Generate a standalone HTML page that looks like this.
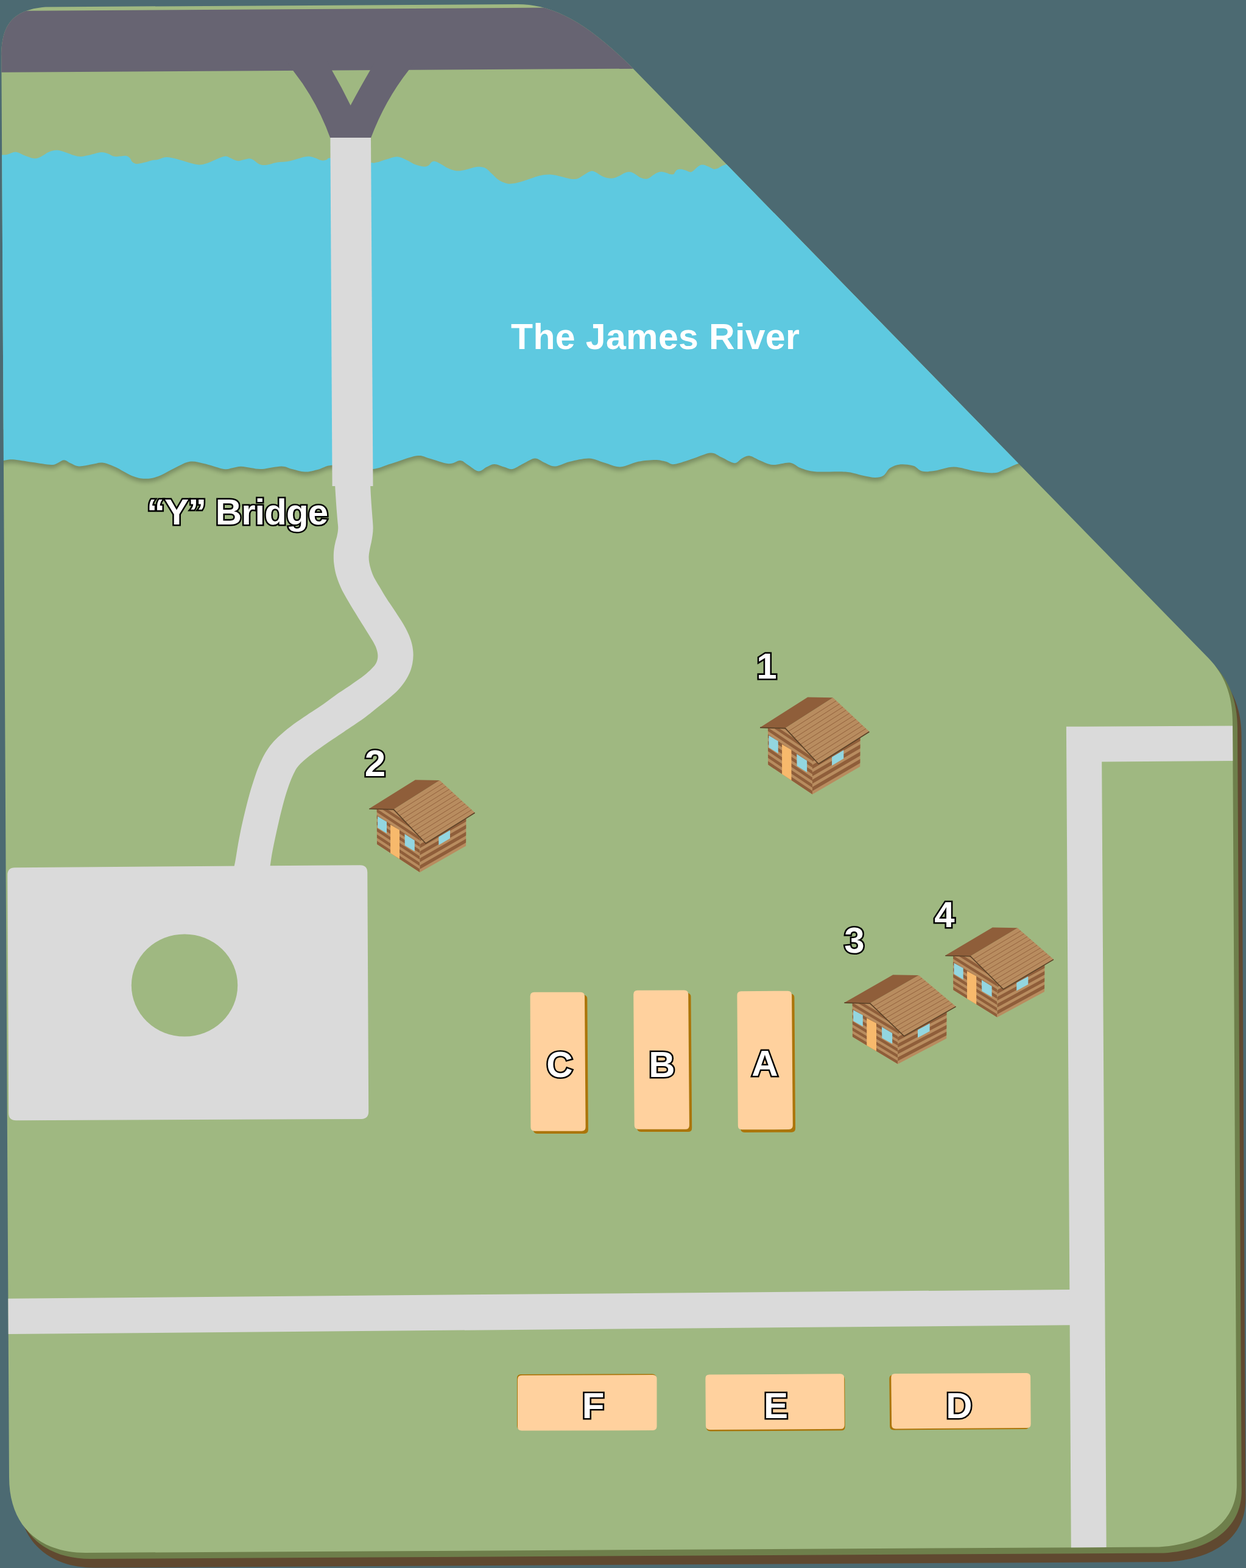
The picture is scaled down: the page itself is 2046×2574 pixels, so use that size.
<!DOCTYPE html>
<html><head><meta charset="utf-8"><title>Map</title>
<style>
html,body{margin:0;padding:0;background:#4c6a72;}
svg{display:block;}
text{font-family:"Liberation Sans",sans-serif;font-weight:bold;}
</style></head><body>

<svg width="2046" height="2574" viewBox="0 0 2046 2574">
<defs>
<clipPath id="pg"><path d="M2.3,93 C2.3,45 17,16 74.7,11.4 L850,7 C905,7 960,33 1039,112 L1985,1081 C2010,1107 2024,1140 2024,1185 L2030.8,2437 C2031,2485 1998,2533 1903,2539.5 L140,2549 C70,2549 15,2510 15,2425 Z"/></clipPath>
<filter id="sb" filterUnits="userSpaceOnUse" x="-10" y="700" width="1780" height="110"><feGaussianBlur stdDeviation="3.5"/></filter>
<clipPath id="lowhalf"><rect x="0" y="600" width="2046" height="300"/></clipPath>
<clipPath id="cwl"><polygon points="12.5,48 40.2,48.5 83.1,95 83.1,151.9 12.8,105.7" fill="#000"/></clipPath><clipPath id="cwr"><polygon points="83.1,95 92.9,104.1 159.2,63.3 158.9,108.5 83.1,151.9" fill="#000"/></clipPath><clipPath id="crf"><polygon points="40.2,48.5 115.9,0.9 173.5,53.9 92.9,104.1" fill="#000"/></clipPath>
</defs>
<rect width="2046" height="2574" fill="#4c6a72"/>
<path d="M2.3,93 C2.3,45 17,16 74.7,11.4 L850,7 C905,7 960,33 1039,112 L1985,1081 C2010,1107 2024,1140 2024,1185 L2030.8,2437 C2031,2485 1998,2533 1903,2539.5 L140,2549 C70,2549 15,2510 15,2425 Z" fill="#604930" transform="translate(14.6,24.5)"/>
<path d="M2.3,93 C2.3,45 17,16 74.7,11.4 L850,7 C905,7 960,33 1039,112 L1985,1081 C2010,1107 2024,1140 2024,1185 L2030.8,2437 C2031,2485 1998,2533 1903,2539.5 L140,2549 C70,2549 15,2510 15,2425 Z" fill="#6e7f4b" transform="translate(8,10)"/>
<path d="M2.3,93 C2.3,45 17,16 74.7,11.4 L850,7 C905,7 960,33 1039,112 L1985,1081 C2010,1107 2024,1140 2024,1185 L2030.8,2437 C2031,2485 1998,2533 1903,2539.5 L140,2549 C70,2549 15,2510 15,2425 Z" fill="#9fb881"/>
<g clip-path="url(#pg)">
<polygon points="-5,18 900,12.6 1100,11.5 1100,112.4 -5,118.8" fill="#676472"/>
<path d="M-5,255 C-3.8,254.9 -0.5,254.7 2.3,254.5 C5.1,254.3 7.8,254.6 11.7,253.8 C15.6,253 21,249.4 25.7,249.6 C30.4,249.8 34.7,253.2 39.7,255 C44.8,256.8 51.3,259.8 56,260.1 C60.7,260.4 63.8,258.6 67.7,256.9 C71.6,255.2 75,251.6 79.3,249.9 C83.6,248.2 88.6,246.6 93.3,246.6 C98,246.6 102.6,248.5 107.3,249.9 C112,251.3 117,253.8 121.3,255 C125.6,256.2 128.7,257 133,256.9 C137.3,256.8 141.6,255.6 147,254.5 C152.4,253.4 160.6,250.5 165.7,250.1 C170.8,249.7 173.8,251.1 177.3,252.2 C180.8,253.3 183.2,255.9 186.7,256.6 C190.2,257.3 194.8,256.5 198.3,256.4 C201.8,256.3 205.2,255.3 207.7,255.9 C210.2,256.4 211.9,258.1 213.5,259.7 C215.1,261.3 215.2,263.9 217,265.5 C218.8,267.1 220.9,268.7 224,269 C227.1,269.3 231.4,268.1 235.7,267.1 C240,266.1 245.8,264.1 249.7,263.2 C253.6,262.3 255.1,262.9 259,262 C262.9,261.1 267.9,258.2 273,258 C278.1,257.8 283.2,259.3 289.4,260.8 C295.6,262.3 304.2,265.5 310.4,267.1 C316.6,268.7 321.6,270.3 326.7,270.4 C331.8,270.5 335.6,269.4 340.7,267.8 C345.8,266.2 352.1,262.7 357,260.8 C361.9,258.9 366.4,256.9 369.9,256.6 C373.4,256.3 374.7,257.9 378,259.2 C381.3,260.4 386,263.6 389.8,264.1 C393.6,264.6 397.7,262.6 401,262 C404.3,261.4 406.8,260.2 409.4,260.3 C412,260.4 413.8,261.2 416.4,262.7 C419,264.1 422,267.6 424.8,269 C427.6,270.4 430.2,271 433.2,271.1 C436.2,271.2 439.3,270.4 443,269.7 C446.7,268.9 450.2,267.5 455.6,266.6 C461,265.7 469.6,265.4 475.2,264.4 C480.8,263.4 485,261.8 489.2,260.6 C493.4,259.5 497.1,258.1 500.4,257.5 C503.7,256.9 506,256.7 508.8,257 C511.6,257.3 514.4,258.2 517.2,259.2 C520,260.1 523.3,262 525.6,262.7 C527.9,263.4 529.3,263.5 531.2,263.4 C533.1,263.3 534.9,262.6 536.8,262 C538.7,261.4 536,259.5 542.4,259.5 C548.8,259.5 563.9,260.8 575,262 C586.1,263.2 602,266.1 609.3,266.9 C616.6,267.7 614.4,267.5 618.7,266.6 C623,265.7 629.4,263.1 635,261.5 C640.6,259.9 647,257.1 652.5,257.3 C658,257.5 662.8,260.6 667.7,262.7 C672.6,264.8 677,268.3 681.7,270.1 C686.4,271.9 692,273.4 695.7,273.6 C699.4,273.8 701.8,272.7 703.9,271.5 C706,270.3 706.8,267.3 708.5,266.2 C710.2,265.1 711.9,264.5 714.4,265 C716.9,265.5 720.2,267.4 723.7,269.2 C727.2,271 731.1,274.1 735.4,276 C739.7,277.9 744.7,279.9 749.4,280.4 C754.1,280.9 758.7,279.9 763.4,279 C768.1,278.1 773.1,275.9 777.4,275 C781.7,274.1 785.5,273.6 789,273.9 C792.5,274.2 795.3,274.8 798.4,276.7 C801.5,278.6 804.2,282.1 807.7,285.3 C811.2,288.5 815.1,293.1 819.4,295.8 C823.7,298.5 828.7,300.6 833.4,301.4 C838.1,302.2 842.3,301.4 847.4,300.5 C852.5,299.6 857.5,297.8 863.7,295.8 C869.9,293.9 878.1,290.4 884.7,288.8 C891.3,287.2 897.2,286.3 903.4,286.5 C909.6,286.7 916.6,288.8 922,290 C927.4,291.2 931.7,292.9 936,293.5 C940.3,294.1 944.2,294.4 947.7,293.5 C951.2,292.6 953.9,290.1 957,288.3 C960.1,286.5 963.7,283.7 966.4,282.5 C969.1,281.3 971.1,280.7 973.4,280.9 C975.7,281.1 977.5,282.3 980,283.7 C982.5,285.1 985.6,287.6 988.4,289 C991.2,290.4 993.8,291.5 996.8,292.1 C999.8,292.7 1003.3,293 1006.6,292.5 C1009.9,292 1013.1,290.5 1016.4,289 C1019.7,287.5 1023.2,284.8 1026.2,283.7 C1029.2,282.6 1032,282.1 1034.6,282.3 C1037.2,282.5 1039,283.7 1041.6,285.1 C1044.2,286.5 1047.2,289.3 1050,290.7 C1052.8,292.1 1055.8,293.3 1058.4,293.6 C1061,293.9 1063.1,293.5 1065.4,292.5 C1067.7,291.5 1070.1,289.1 1072.4,287.6 C1074.7,286.1 1077.1,284.3 1079.4,283.4 C1081.7,282.5 1084.1,282 1086.4,282 C1088.7,282 1091.1,282.8 1093.4,283.4 C1095.7,284 1098.3,285.5 1100.4,285.9 C1102.5,286.3 1104.6,286.5 1106,285.9 C1107.4,285.2 1107.8,283.2 1108.8,282 C1109.8,280.8 1110.7,279.2 1112.3,278.5 C1113.9,277.8 1116.4,277.6 1118.6,277.8 C1120.8,278 1123.1,278.8 1125.6,279.6 C1128,280.4 1131.2,282.2 1133.3,282.4 C1135.4,282.6 1136.2,282 1138.2,280.6 C1140.2,279.2 1143.1,275.9 1145.2,274.3 C1147.3,272.7 1148.9,271.4 1150.8,270.8 C1152.7,270.2 1154.3,270.3 1156.4,270.8 C1158.5,271.3 1160.8,272.5 1163.4,273.6 C1166,274.7 1169.5,276.9 1171.8,277.4 C1174.1,277.9 1175.3,277.6 1177.4,276.8 C1179.5,276.1 1181.8,274.1 1184.4,272.9 C1187,271.7 1187.7,271.6 1192.8,269.8 C1197.9,268 1211.3,263.3 1215,262 L1700,752 C1695.2,753.5 1679.8,758.3 1671.5,761.3 C1663.2,764.3 1656.9,767.5 1650.5,770 C1644.1,772.5 1641.2,775.7 1633,776.3 C1624.8,776.9 1612.6,775.1 1601.5,773.5 C1590.4,771.9 1577.6,766.6 1566.5,766.5 C1555.4,766.4 1543.8,771.6 1535,772.8 C1526.2,774 1519.8,774.8 1514,773.5 C1508.2,772.2 1505.8,766.7 1500,764.8 C1494.2,762.9 1485.4,761.7 1479,762.3 C1472.6,762.9 1466.2,765.3 1461.5,768.3 C1456.8,771.3 1455.1,777.9 1451,780.5 C1446.9,783.1 1442.8,784 1437,784 C1431.2,784 1424.2,782.1 1416,780.5 C1407.8,778.9 1400.8,775.6 1388,774.6 C1375.2,773.6 1351.2,775.2 1339,774.2 C1326.8,773.2 1321.5,770.8 1314.5,768.3 C1307.5,765.8 1304.6,760.4 1297,759.5 C1289.4,758.6 1277.2,763.6 1269,763 C1260.8,762.4 1254.4,758.5 1248,756 C1241.6,753.5 1235.5,748.9 1230.5,748.3 C1225.5,747.7 1222.4,750.5 1218.3,752.5 C1214.2,754.5 1211.5,760.5 1206,760.2 C1200.5,759.9 1191.5,753.6 1185,750.8 C1178.5,748 1174.7,743.2 1167,743.5 C1159.3,743.8 1148.9,749.4 1139,752.5 C1129.1,755.6 1115.1,761.1 1107.5,762 C1099.9,762.9 1098.8,759 1093.5,757.8 C1088.2,756.6 1083.6,755 1076,755 C1068.4,755 1057.6,755.9 1048,757.8 C1038.4,759.7 1027.6,766.2 1018.3,766.5 C1009,766.8 1000.5,761.8 992,759.5 C983.5,757.2 976.8,752.8 967.5,752.5 C958.2,752.2 945.3,755.6 936,757.8 C926.7,760 918.5,765.2 911.5,765.5 C904.5,765.8 899.5,761.7 894,759.5 C888.5,757.3 884.1,752.2 878.3,752.5 C872.5,752.8 865.1,758.4 859,761.3 C852.9,764.2 846.8,769.1 841.5,770 C836.2,770.9 832.5,767.8 827.5,766.5 C822.5,765.2 816.5,762 811.8,762 C807.1,762 803.9,764.6 799.5,766.5 C795.1,768.4 790.8,774.1 785.5,773.5 C780.2,772.9 773,765.9 768,763 C763,760.1 761,756.3 755.8,756 C750.5,755.7 745,761.9 736.5,761.3 C728,760.7 713.8,754.7 705,752.5 C696.2,750.3 694.5,746.8 684,748.3 C673.5,749.8 653.9,757.7 642,761.3 C630.1,764.9 622.9,768.9 612.6,770 C602.3,771.1 591.3,769 580,768 C568.7,767 554.4,763.2 544.6,763.7 C534.9,764.2 528.9,769.2 521.5,771 C514.1,772.8 507.5,774.8 500.5,774.6 C493.5,774.4 485.9,771.5 479.5,770 C473.1,768.5 470.2,765.5 462,765.5 C453.8,765.5 438.7,769.5 430.5,770 C422.3,770.5 418.8,769 413,768.3 C407.2,767.6 400.8,765.8 395.5,765.8 C390.2,765.8 386.2,767.6 381.5,768.3 C376.8,769 375.1,771.2 367.5,770 C359.9,768.8 345.3,763.3 336,761.3 C326.7,759.3 319.7,756.6 311.5,757.8 C303.3,759 295.8,764.2 287,768.3 C278.2,772.4 267.2,779.4 259,782.3 C250.8,785.2 245,786 238,785.8 C231,785.6 225.2,784.4 217,781.2 C208.8,778 197.2,770.1 189,766.5 C180.8,762.9 174.4,760.2 168,759.5 C161.6,758.8 156.9,761.3 150.5,762.3 C144.1,763.3 135.3,765.9 129.5,765.5 C123.7,765.1 119.6,761.9 115.5,760.2 C111.4,758.5 108.5,755.3 105,755.3 C101.5,755.3 98,758.9 94.5,760.2 C91,761.5 91,763.2 84,763 C77,762.8 63,760.2 52.5,758.8 C42,757.3 28.7,754.8 21,754.3 C13.3,753.8 10.6,755.5 6.3,756 C2,756.5 -3.1,756.8 -5,757 Z" fill="#000" opacity="0.24" filter="url(#sb)" transform="translate(0,5.5)"/>
<path d="M-5,255 C-3.8,254.9 -0.5,254.7 2.3,254.5 C5.1,254.3 7.8,254.6 11.7,253.8 C15.6,253 21,249.4 25.7,249.6 C30.4,249.8 34.7,253.2 39.7,255 C44.8,256.8 51.3,259.8 56,260.1 C60.7,260.4 63.8,258.6 67.7,256.9 C71.6,255.2 75,251.6 79.3,249.9 C83.6,248.2 88.6,246.6 93.3,246.6 C98,246.6 102.6,248.5 107.3,249.9 C112,251.3 117,253.8 121.3,255 C125.6,256.2 128.7,257 133,256.9 C137.3,256.8 141.6,255.6 147,254.5 C152.4,253.4 160.6,250.5 165.7,250.1 C170.8,249.7 173.8,251.1 177.3,252.2 C180.8,253.3 183.2,255.9 186.7,256.6 C190.2,257.3 194.8,256.5 198.3,256.4 C201.8,256.3 205.2,255.3 207.7,255.9 C210.2,256.4 211.9,258.1 213.5,259.7 C215.1,261.3 215.2,263.9 217,265.5 C218.8,267.1 220.9,268.7 224,269 C227.1,269.3 231.4,268.1 235.7,267.1 C240,266.1 245.8,264.1 249.7,263.2 C253.6,262.3 255.1,262.9 259,262 C262.9,261.1 267.9,258.2 273,258 C278.1,257.8 283.2,259.3 289.4,260.8 C295.6,262.3 304.2,265.5 310.4,267.1 C316.6,268.7 321.6,270.3 326.7,270.4 C331.8,270.5 335.6,269.4 340.7,267.8 C345.8,266.2 352.1,262.7 357,260.8 C361.9,258.9 366.4,256.9 369.9,256.6 C373.4,256.3 374.7,257.9 378,259.2 C381.3,260.4 386,263.6 389.8,264.1 C393.6,264.6 397.7,262.6 401,262 C404.3,261.4 406.8,260.2 409.4,260.3 C412,260.4 413.8,261.2 416.4,262.7 C419,264.1 422,267.6 424.8,269 C427.6,270.4 430.2,271 433.2,271.1 C436.2,271.2 439.3,270.4 443,269.7 C446.7,268.9 450.2,267.5 455.6,266.6 C461,265.7 469.6,265.4 475.2,264.4 C480.8,263.4 485,261.8 489.2,260.6 C493.4,259.5 497.1,258.1 500.4,257.5 C503.7,256.9 506,256.7 508.8,257 C511.6,257.3 514.4,258.2 517.2,259.2 C520,260.1 523.3,262 525.6,262.7 C527.9,263.4 529.3,263.5 531.2,263.4 C533.1,263.3 534.9,262.6 536.8,262 C538.7,261.4 536,259.5 542.4,259.5 C548.8,259.5 563.9,260.8 575,262 C586.1,263.2 602,266.1 609.3,266.9 C616.6,267.7 614.4,267.5 618.7,266.6 C623,265.7 629.4,263.1 635,261.5 C640.6,259.9 647,257.1 652.5,257.3 C658,257.5 662.8,260.6 667.7,262.7 C672.6,264.8 677,268.3 681.7,270.1 C686.4,271.9 692,273.4 695.7,273.6 C699.4,273.8 701.8,272.7 703.9,271.5 C706,270.3 706.8,267.3 708.5,266.2 C710.2,265.1 711.9,264.5 714.4,265 C716.9,265.5 720.2,267.4 723.7,269.2 C727.2,271 731.1,274.1 735.4,276 C739.7,277.9 744.7,279.9 749.4,280.4 C754.1,280.9 758.7,279.9 763.4,279 C768.1,278.1 773.1,275.9 777.4,275 C781.7,274.1 785.5,273.6 789,273.9 C792.5,274.2 795.3,274.8 798.4,276.7 C801.5,278.6 804.2,282.1 807.7,285.3 C811.2,288.5 815.1,293.1 819.4,295.8 C823.7,298.5 828.7,300.6 833.4,301.4 C838.1,302.2 842.3,301.4 847.4,300.5 C852.5,299.6 857.5,297.8 863.7,295.8 C869.9,293.9 878.1,290.4 884.7,288.8 C891.3,287.2 897.2,286.3 903.4,286.5 C909.6,286.7 916.6,288.8 922,290 C927.4,291.2 931.7,292.9 936,293.5 C940.3,294.1 944.2,294.4 947.7,293.5 C951.2,292.6 953.9,290.1 957,288.3 C960.1,286.5 963.7,283.7 966.4,282.5 C969.1,281.3 971.1,280.7 973.4,280.9 C975.7,281.1 977.5,282.3 980,283.7 C982.5,285.1 985.6,287.6 988.4,289 C991.2,290.4 993.8,291.5 996.8,292.1 C999.8,292.7 1003.3,293 1006.6,292.5 C1009.9,292 1013.1,290.5 1016.4,289 C1019.7,287.5 1023.2,284.8 1026.2,283.7 C1029.2,282.6 1032,282.1 1034.6,282.3 C1037.2,282.5 1039,283.7 1041.6,285.1 C1044.2,286.5 1047.2,289.3 1050,290.7 C1052.8,292.1 1055.8,293.3 1058.4,293.6 C1061,293.9 1063.1,293.5 1065.4,292.5 C1067.7,291.5 1070.1,289.1 1072.4,287.6 C1074.7,286.1 1077.1,284.3 1079.4,283.4 C1081.7,282.5 1084.1,282 1086.4,282 C1088.7,282 1091.1,282.8 1093.4,283.4 C1095.7,284 1098.3,285.5 1100.4,285.9 C1102.5,286.3 1104.6,286.5 1106,285.9 C1107.4,285.2 1107.8,283.2 1108.8,282 C1109.8,280.8 1110.7,279.2 1112.3,278.5 C1113.9,277.8 1116.4,277.6 1118.6,277.8 C1120.8,278 1123.1,278.8 1125.6,279.6 C1128,280.4 1131.2,282.2 1133.3,282.4 C1135.4,282.6 1136.2,282 1138.2,280.6 C1140.2,279.2 1143.1,275.9 1145.2,274.3 C1147.3,272.7 1148.9,271.4 1150.8,270.8 C1152.7,270.2 1154.3,270.3 1156.4,270.8 C1158.5,271.3 1160.8,272.5 1163.4,273.6 C1166,274.7 1169.5,276.9 1171.8,277.4 C1174.1,277.9 1175.3,277.6 1177.4,276.8 C1179.5,276.1 1181.8,274.1 1184.4,272.9 C1187,271.7 1187.7,271.6 1192.8,269.8 C1197.9,268 1211.3,263.3 1215,262 L1700,752 C1695.2,753.5 1679.8,758.3 1671.5,761.3 C1663.2,764.3 1656.9,767.5 1650.5,770 C1644.1,772.5 1641.2,775.7 1633,776.3 C1624.8,776.9 1612.6,775.1 1601.5,773.5 C1590.4,771.9 1577.6,766.6 1566.5,766.5 C1555.4,766.4 1543.8,771.6 1535,772.8 C1526.2,774 1519.8,774.8 1514,773.5 C1508.2,772.2 1505.8,766.7 1500,764.8 C1494.2,762.9 1485.4,761.7 1479,762.3 C1472.6,762.9 1466.2,765.3 1461.5,768.3 C1456.8,771.3 1455.1,777.9 1451,780.5 C1446.9,783.1 1442.8,784 1437,784 C1431.2,784 1424.2,782.1 1416,780.5 C1407.8,778.9 1400.8,775.6 1388,774.6 C1375.2,773.6 1351.2,775.2 1339,774.2 C1326.8,773.2 1321.5,770.8 1314.5,768.3 C1307.5,765.8 1304.6,760.4 1297,759.5 C1289.4,758.6 1277.2,763.6 1269,763 C1260.8,762.4 1254.4,758.5 1248,756 C1241.6,753.5 1235.5,748.9 1230.5,748.3 C1225.5,747.7 1222.4,750.5 1218.3,752.5 C1214.2,754.5 1211.5,760.5 1206,760.2 C1200.5,759.9 1191.5,753.6 1185,750.8 C1178.5,748 1174.7,743.2 1167,743.5 C1159.3,743.8 1148.9,749.4 1139,752.5 C1129.1,755.6 1115.1,761.1 1107.5,762 C1099.9,762.9 1098.8,759 1093.5,757.8 C1088.2,756.6 1083.6,755 1076,755 C1068.4,755 1057.6,755.9 1048,757.8 C1038.4,759.7 1027.6,766.2 1018.3,766.5 C1009,766.8 1000.5,761.8 992,759.5 C983.5,757.2 976.8,752.8 967.5,752.5 C958.2,752.2 945.3,755.6 936,757.8 C926.7,760 918.5,765.2 911.5,765.5 C904.5,765.8 899.5,761.7 894,759.5 C888.5,757.3 884.1,752.2 878.3,752.5 C872.5,752.8 865.1,758.4 859,761.3 C852.9,764.2 846.8,769.1 841.5,770 C836.2,770.9 832.5,767.8 827.5,766.5 C822.5,765.2 816.5,762 811.8,762 C807.1,762 803.9,764.6 799.5,766.5 C795.1,768.4 790.8,774.1 785.5,773.5 C780.2,772.9 773,765.9 768,763 C763,760.1 761,756.3 755.8,756 C750.5,755.7 745,761.9 736.5,761.3 C728,760.7 713.8,754.7 705,752.5 C696.2,750.3 694.5,746.8 684,748.3 C673.5,749.8 653.9,757.7 642,761.3 C630.1,764.9 622.9,768.9 612.6,770 C602.3,771.1 591.3,769 580,768 C568.7,767 554.4,763.2 544.6,763.7 C534.9,764.2 528.9,769.2 521.5,771 C514.1,772.8 507.5,774.8 500.5,774.6 C493.5,774.4 485.9,771.5 479.5,770 C473.1,768.5 470.2,765.5 462,765.5 C453.8,765.5 438.7,769.5 430.5,770 C422.3,770.5 418.8,769 413,768.3 C407.2,767.6 400.8,765.8 395.5,765.8 C390.2,765.8 386.2,767.6 381.5,768.3 C376.8,769 375.1,771.2 367.5,770 C359.9,768.8 345.3,763.3 336,761.3 C326.7,759.3 319.7,756.6 311.5,757.8 C303.3,759 295.8,764.2 287,768.3 C278.2,772.4 267.2,779.4 259,782.3 C250.8,785.2 245,786 238,785.8 C231,785.6 225.2,784.4 217,781.2 C208.8,778 197.2,770.1 189,766.5 C180.8,762.9 174.4,760.2 168,759.5 C161.6,758.8 156.9,761.3 150.5,762.3 C144.1,763.3 135.3,765.9 129.5,765.5 C123.7,765.1 119.6,761.9 115.5,760.2 C111.4,758.5 108.5,755.3 105,755.3 C101.5,755.3 98,758.9 94.5,760.2 C91,761.5 91,763.2 84,763 C77,762.8 63,760.2 52.5,758.8 C42,757.3 28.7,754.8 21,754.3 C13.3,753.8 10.6,755.5 6.3,756 C2,756.5 -3.1,756.8 -5,757 Z" fill="#5ec9e0"/>
<path d="M470,100 L481.7,116.5 Q520,165 542.3,226.5 L609,226.5 Q632,165 671.3,115 L680,100 L616,100 L608,115 Q590,146 575.6,173 Q561,143 545,115.5 L537,100 Z" fill="#676472"/>
<polygon points="542.4,226 609,226 612.5,798 545.6,798" fill="#dadada"/>
<path d="M550.1,796 C550.3,799.3 550.9,809.2 551.3,815.7 C551.7,822.2 552.1,828.5 552.6,834.9 C553.1,841.3 553.8,848.9 554.2,854.2 C554.6,859.6 555.3,862.9 555.2,867 C555.1,871.1 554.5,874.8 553.7,878.6 C553,882.5 551.6,886.2 550.7,890.1 C549.8,894 549,897.9 548.5,901.7 C548,905.6 547.8,909.1 547.8,913.2 C547.8,917.3 547.9,921.4 548.5,926.1 C549.1,930.8 550,936.4 551.3,941.5 C552.6,946.6 554.4,951.5 556.5,956.9 C558.6,962.2 561.2,967.8 564.2,973.6 C567.2,979.4 570.8,985.3 574.5,991.5 C578.2,997.7 582.1,1004 586.4,1011 C590.7,1018 596.2,1026.6 600.4,1033.4 C604.6,1040.2 608.7,1046.5 611.6,1051.6 C614.5,1056.7 616.4,1060 617.9,1064.2 C619.4,1068.4 620.4,1072.8 620.4,1076.8 C620.4,1080.8 619.6,1084.5 617.9,1088 C616.2,1091.5 613.6,1094.3 610.2,1097.8 C606.8,1101.3 603,1104.8 597.6,1109 C592.2,1113.2 585.9,1117.5 578,1123 C570.1,1128.5 558.8,1135.7 550,1141.9 C541.2,1148.1 532.7,1154.7 525,1160 C517.3,1165.3 510.9,1169.1 503.8,1173.9 C496.7,1178.7 489.6,1183.3 482.5,1188.6 C475.4,1193.9 467.3,1200.4 461.3,1205.7 C455.3,1211 450.8,1215.5 446.6,1220.4 C442.4,1225.3 439.3,1229.8 436,1235.2 C432.7,1240.7 429.9,1246.6 427,1253.1 C424.1,1259.6 421.5,1266.5 418.8,1274.4 C416.1,1282.3 413.2,1291.5 410.6,1300.5 C408,1309.5 405.6,1319 403.3,1328.3 C401,1337.5 398.9,1346.5 396.8,1356 C394.8,1365.5 392.6,1376.5 391,1385.5 C389.4,1394.5 388.1,1403.6 387,1410 C385.9,1416.4 384.7,1421.7 384.2,1424 L443.3,1424 C443.9,1420.3 445.2,1409.6 446.6,1401.8 C448,1394 449.6,1386.3 451.5,1377.3 C453.4,1368.3 455.6,1358.2 458,1347.9 C460.4,1337.6 463.5,1325 466.2,1315.2 C468.9,1305.4 471.7,1296.7 474.4,1289.1 C477.1,1281.5 479.8,1275 482.5,1269.5 C485.2,1264 486.6,1261 490.7,1256.4 C494.8,1251.8 500.2,1247.2 507,1241.7 C513.8,1236.2 522,1230.4 531.5,1223.7 C541,1217 553.3,1209.1 564.2,1201.7 C575.1,1194.3 588.1,1185.9 596.9,1179.6 C605.7,1173.2 610.3,1169.1 617.2,1163.6 C624.1,1158.1 632.1,1151.9 638.2,1146.8 C644.3,1141.7 649.2,1137.5 653.6,1132.8 C658,1128.1 661.6,1123.5 664.8,1118.8 C667.9,1114.1 670.4,1109.7 672.5,1104.8 C674.6,1099.9 676.2,1094.5 677.2,1089.4 C678.2,1084.3 678.7,1079.1 678.6,1074 C678.5,1068.9 677.8,1063.7 676.7,1058.6 C675.6,1053.5 674,1048.6 671.8,1043.2 C669.6,1037.8 667.4,1033.4 663.4,1026.4 C659.4,1019.5 652.3,1008.8 647.5,1001.5 C642.7,994.2 638.8,989 634.8,982.6 C630.8,976.2 626.6,969.1 623.2,963.3 C619.8,957.5 616.6,952.6 614.2,947.9 C611.9,943.2 610.4,939.2 609.1,935.1 C607.8,931 606.9,927.1 606.3,923.5 C605.7,919.9 605.5,916.8 605.6,913.2 C605.8,909.6 606.5,905.6 607.2,901.7 C607.9,897.9 609,894 609.8,890.1 C610.5,886.2 611.2,882.5 611.7,878.6 C612.2,874.8 612.6,871.1 612.6,867 C612.6,862.9 612.3,859.6 611.9,854.2 C611.5,848.9 610.9,841.3 610.4,834.9 C609.9,828.5 609.5,822.2 609.1,815.7 C608.7,809.2 608.3,799.3 608.1,796 Z" fill="#dadada"/>
<path d="M24.3,1424.2 L591.2,1420.3 Q603.2,1420.2 603.3,1432.2 L605.2,1824.8 Q605.2,1836.8 593.2,1836.9 L26.3,1839.3 Q14.3,1839.3 14.2,1827.3 L12.3,1436.3 Q12.3,1424.3 24.3,1424.2 Z" fill="#dadada"/>
<ellipse cx="303" cy="1617.5" rx="87.2" ry="84.1" fill="#9fb881"/>
<polygon points="0,2131.8 1757,2116.9 1757,2175.2 0,2190.1" fill="#dadada"/>
<polygon points="1750.9,1192.8 2040,1191.3 2040,1248.8 1809.2,1250.5 1816.8,2560 1758.9,2560" fill="#dadada"/>
</g>
<path d="M874.9,1639.7 Q874.9,1633.2 881.4,1633.2 L957.8,1633.2 Q964.3,1633.2 964.3,1639.7 L965.9,1854.6 Q965.9,1861.1 959.4,1861.1 L882.2,1861.1 Q875.7,1861.1 875.7,1854.6 Z" fill="#ab750a"/>
<path d="M870.6,1635.3 Q870.6,1628.8 877.1,1628.8 L953.5,1628.8 Q960,1628.8 960,1635.3 L961.6,1850.2 Q961.6,1856.7 955.1,1856.7 L877.9,1856.7 Q871.4,1856.7 871.4,1850.2 Z" fill="#ffd19e"/>
<text x="919" y="1768" font-size="60" text-anchor="middle" fill="#fff" stroke="#000" stroke-width="5.2" stroke-linejoin="miter" stroke-miterlimit="3" paint-order="stroke">C</text>
<path d="M1044.5,1636.7 Q1044.5,1630.2 1051,1630.2 L1127.9,1629.9 Q1134.4,1629.9 1134.5,1636.4 L1136.2,1851.6 Q1136.3,1858.1 1129.8,1858.1 L1052.5,1858.1 Q1046,1858.1 1046,1851.6 Z" fill="#ab750a"/>
<path d="M1040.2,1632.3 Q1040.2,1625.8 1046.7,1625.8 L1123.6,1625.5 Q1130.1,1625.5 1130.2,1632 L1131.9,1847.2 Q1132,1853.7 1125.5,1853.7 L1048.2,1853.7 Q1041.7,1853.7 1041.7,1847.2 Z" fill="#ffd19e"/>
<text x="1087" y="1768" font-size="60" text-anchor="middle" fill="#fff" stroke="#000" stroke-width="5.2" stroke-linejoin="miter" stroke-miterlimit="3" paint-order="stroke">B</text>
<path d="M1214.7,1638.3 Q1214.7,1631.8 1221.2,1631.8 L1297.9,1631.3 Q1304.4,1631.3 1304.4,1637.8 L1306.1,1852.2 Q1306.1,1858.7 1299.6,1858.7 L1222.6,1858.9 Q1216.1,1858.9 1216.1,1852.4 Z" fill="#ab750a"/>
<path d="M1210.4,1633.7 Q1210.4,1627.2 1216.9,1627.2 L1293.6,1626.7 Q1300.1,1626.7 1300.1,1633.2 L1301.8,1847.6 Q1301.8,1854.1 1295.3,1854.1 L1218.3,1854.3 Q1211.8,1854.3 1211.8,1847.8 Z" fill="#ffd19e"/>
<text x="1256" y="1766" font-size="60" text-anchor="middle" fill="#fff" stroke="#000" stroke-width="5.2" stroke-linejoin="miter" stroke-miterlimit="3" paint-order="stroke">A</text>
<path d="M849,2262.6 Q849,2256.1 855.5,2256.1 L1071,2255.4 Q1077.5,2255.4 1077.5,2261.9 L1077.5,2340 Q1077.5,2346.5 1071,2346.5 L855.5,2347 Q849,2347 849,2340.5 Z" fill="#ab750a"/>
<path d="M850,2264.2 Q850,2257.7 856.5,2257.7 L1072,2257 Q1078.5,2257 1078.5,2263.5 L1078.5,2341.6 Q1078.5,2348.1 1072,2348.1 L856.5,2348.6 Q850,2348.6 850,2342.1 Z" fill="#ffd19e"/>
<text x="974" y="2328" font-size="60" text-anchor="middle" fill="#fff" stroke="#000" stroke-width="5.2" stroke-linejoin="miter" stroke-miterlimit="3" paint-order="stroke">F</text>
<path d="M1159.4,2265.6 Q1159.3,2259.1 1165.8,2259.1 L1380.6,2257.8 Q1387.1,2257.8 1387.2,2264.3 L1387.7,2341.7 Q1387.8,2348.2 1381.3,2348.2 L1166.5,2349.6 Q1160,2349.6 1159.9,2343.1 Z" fill="#ab750a"/>
<path d="M1158.4,2263.1 Q1158.3,2256.6 1164.8,2256.6 L1379.6,2255.3 Q1386.1,2255.3 1386.2,2261.8 L1386.7,2339.2 Q1386.8,2345.7 1380.3,2345.7 L1165.5,2347.1 Q1159,2347.1 1158.9,2340.6 Z" fill="#ffd19e"/>
<text x="1274" y="2328" font-size="60" text-anchor="middle" fill="#fff" stroke="#000" stroke-width="5.2" stroke-linejoin="miter" stroke-miterlimit="3" paint-order="stroke">E</text>
<path d="M1460.3,2263.4 Q1460.2,2256.9 1466.7,2256.9 L1682.5,2255.9 Q1689,2255.9 1689.1,2262.4 L1689.6,2339.6 Q1689.7,2346.1 1683.2,2346.1 L1467.7,2347.4 Q1461.2,2347.4 1461.1,2340.9 Z" fill="#ab750a"/>
<path d="M1463.3,2261.4 Q1463.2,2254.9 1469.7,2254.9 L1685.5,2253.9 Q1692,2253.9 1692.1,2260.4 L1692.6,2337.6 Q1692.7,2344.1 1686.2,2344.1 L1470.7,2345.4 Q1464.2,2345.4 1464.1,2338.9 Z" fill="#ffd19e"/>
<text x="1575" y="2328" font-size="60" text-anchor="middle" fill="#fff" stroke="#000" stroke-width="5.2" stroke-linejoin="miter" stroke-miterlimit="3" paint-order="stroke">D</text>
<g transform="translate(1248,1144.4) scale(1.03401,1.05069)"><polygon points="12.5,48 40.2,48.5 83.1,95 83.1,151.9 12.8,105.7" fill="#b88c5f"/>
<g clip-path="url(#cwl)" stroke="#8f5e3a" stroke-width="4.6"><line x1="5" y1="97.8" x2="90" y2="153.7"/><line x1="5" y1="87.3" x2="90" y2="143.2"/><line x1="5" y1="76.8" x2="90" y2="132.7"/><line x1="5" y1="66.3" x2="90" y2="122.2"/><line x1="5" y1="55.8" x2="90" y2="111.7"/><line x1="5" y1="45.3" x2="90" y2="101.2"/><line x1="5" y1="34.8" x2="90" y2="90.7"/><line x1="5" y1="24.3" x2="90" y2="80.2"/><line x1="5" y1="13.8" x2="90" y2="69.7"/><line x1="5" y1="3.3" x2="90" y2="59.2"/><line x1="5" y1="-7.2" x2="90" y2="48.7"/><line x1="5" y1="-17.7" x2="90" y2="38.2"/></g>
<polygon points="83.1,95 92.9,104.1 159.2,63.3 158.9,108.5 83.1,151.9" fill="#b88c5f"/>
<g clip-path="url(#cwr)" stroke="#8f5e3a" stroke-width="5.4"><line x1="80" y1="145.3" x2="165" y2="96.5"/><line x1="80" y1="133.8" x2="165" y2="85"/><line x1="80" y1="122.3" x2="165" y2="73.5"/><line x1="80" y1="110.8" x2="165" y2="62"/><line x1="80" y1="99.3" x2="165" y2="50.5"/><line x1="80" y1="87.8" x2="165" y2="39"/><line x1="80" y1="76.3" x2="165" y2="27.5"/><line x1="80" y1="64.8" x2="165" y2="16"/><line x1="80" y1="53.3" x2="165" y2="4.5"/><line x1="80" y1="41.8" x2="165" y2="-7"/><line x1="80" y1="30.3" x2="165" y2="-18.5"/><line x1="80" y1="18.8" x2="165" y2="-30"/></g>
<polygon points="13.9,59.9 28.8,68.7 28.8,87.9 13.9,78.6" fill="#93d6e0"/>
<polygon points="58.3,88.8 74.6,99.3 74.6,117.4 58.6,107.5" fill="#93d6e0"/>
<polygon points="114.2,93.5 132.8,82.6 132.8,96.1 114.2,107" fill="#93d6e0"/>
<polygon points="34.9,73.6 49.8,82.4 49.8,129.9 34.9,120.3" fill="#f7b96c"/>
<polygon points="0,47.4 75.7,0 115.9,0.9 40.2,48.5" fill="#8f5e3a"/>
<polygon points="40.2,48.5 115.9,0.9 173.5,53.9 92.9,104.1" fill="#b88c5f"/>
<g clip-path="url(#crf)" stroke="#8f5e3a" stroke-width="0.9"><line x1="45" y1="53.6" x2="121.1" y2="5.7"/><line x1="49.8" y1="58.6" x2="126.4" y2="10.5"/><line x1="54.6" y1="63.7" x2="131.6" y2="15.4"/><line x1="59.4" y1="68.7" x2="136.8" y2="20.2"/><line x1="64.2" y1="73.8" x2="142.1" y2="25"/><line x1="68.9" y1="78.8" x2="147.3" y2="29.8"/><line x1="73.7" y1="83.9" x2="152.6" y2="34.6"/><line x1="78.5" y1="88.9" x2="157.8" y2="39.4"/><line x1="83.3" y1="94" x2="163" y2="44.3"/><line x1="88.1" y1="99" x2="168.3" y2="49.1"/></g>
<polyline points="0,47.6 40.2,48.7 92.9,104.3 173.5,54.1" fill="none" stroke="#5a4026" stroke-width="1.6" stroke-linejoin="miter"/></g>
<g transform="translate(606.2,1280.2) scale(1.00000,1.00000)"><polygon points="12.5,48 40.2,48.5 83.1,95 83.1,151.9 12.8,105.7" fill="#b88c5f"/>
<g clip-path="url(#cwl)" stroke="#8f5e3a" stroke-width="4.6"><line x1="5" y1="97.8" x2="90" y2="153.7"/><line x1="5" y1="87.3" x2="90" y2="143.2"/><line x1="5" y1="76.8" x2="90" y2="132.7"/><line x1="5" y1="66.3" x2="90" y2="122.2"/><line x1="5" y1="55.8" x2="90" y2="111.7"/><line x1="5" y1="45.3" x2="90" y2="101.2"/><line x1="5" y1="34.8" x2="90" y2="90.7"/><line x1="5" y1="24.3" x2="90" y2="80.2"/><line x1="5" y1="13.8" x2="90" y2="69.7"/><line x1="5" y1="3.3" x2="90" y2="59.2"/><line x1="5" y1="-7.2" x2="90" y2="48.7"/><line x1="5" y1="-17.7" x2="90" y2="38.2"/></g>
<polygon points="83.1,95 92.9,104.1 159.2,63.3 158.9,108.5 83.1,151.9" fill="#b88c5f"/>
<g clip-path="url(#cwr)" stroke="#8f5e3a" stroke-width="5.4"><line x1="80" y1="145.3" x2="165" y2="96.5"/><line x1="80" y1="133.8" x2="165" y2="85"/><line x1="80" y1="122.3" x2="165" y2="73.5"/><line x1="80" y1="110.8" x2="165" y2="62"/><line x1="80" y1="99.3" x2="165" y2="50.5"/><line x1="80" y1="87.8" x2="165" y2="39"/><line x1="80" y1="76.3" x2="165" y2="27.5"/><line x1="80" y1="64.8" x2="165" y2="16"/><line x1="80" y1="53.3" x2="165" y2="4.5"/><line x1="80" y1="41.8" x2="165" y2="-7"/><line x1="80" y1="30.3" x2="165" y2="-18.5"/><line x1="80" y1="18.8" x2="165" y2="-30"/></g>
<polygon points="13.9,59.9 28.8,68.7 28.8,87.9 13.9,78.6" fill="#93d6e0"/>
<polygon points="58.3,88.8 74.6,99.3 74.6,117.4 58.6,107.5" fill="#93d6e0"/>
<polygon points="114.2,93.5 132.8,82.6 132.8,96.1 114.2,107" fill="#93d6e0"/>
<polygon points="34.9,73.6 49.8,82.4 49.8,129.9 34.9,120.3" fill="#f7b96c"/>
<polygon points="0,47.4 75.7,0 115.9,0.9 40.2,48.5" fill="#8f5e3a"/>
<polygon points="40.2,48.5 115.9,0.9 173.5,53.9 92.9,104.1" fill="#b88c5f"/>
<g clip-path="url(#crf)" stroke="#8f5e3a" stroke-width="0.9"><line x1="45" y1="53.6" x2="121.1" y2="5.7"/><line x1="49.8" y1="58.6" x2="126.4" y2="10.5"/><line x1="54.6" y1="63.7" x2="131.6" y2="15.4"/><line x1="59.4" y1="68.7" x2="136.8" y2="20.2"/><line x1="64.2" y1="73.8" x2="142.1" y2="25"/><line x1="68.9" y1="78.8" x2="147.3" y2="29.8"/><line x1="73.7" y1="83.9" x2="152.6" y2="34.6"/><line x1="78.5" y1="88.9" x2="157.8" y2="39.4"/><line x1="83.3" y1="94" x2="163" y2="44.3"/><line x1="88.1" y1="99" x2="168.3" y2="49.1"/></g>
<polyline points="0,47.6 40.2,48.7 92.9,104.3 173.5,54.1" fill="none" stroke="#5a4026" stroke-width="1.6" stroke-linejoin="miter"/></g>
<g transform="translate(1386.4,1600.2) scale(1.05591,0.96445)"><polygon points="12.5,48 40.2,48.5 83.1,95 83.1,151.9 12.8,105.7" fill="#b88c5f"/>
<g clip-path="url(#cwl)" stroke="#8f5e3a" stroke-width="4.6"><line x1="5" y1="97.8" x2="90" y2="153.7"/><line x1="5" y1="87.3" x2="90" y2="143.2"/><line x1="5" y1="76.8" x2="90" y2="132.7"/><line x1="5" y1="66.3" x2="90" y2="122.2"/><line x1="5" y1="55.8" x2="90" y2="111.7"/><line x1="5" y1="45.3" x2="90" y2="101.2"/><line x1="5" y1="34.8" x2="90" y2="90.7"/><line x1="5" y1="24.3" x2="90" y2="80.2"/><line x1="5" y1="13.8" x2="90" y2="69.7"/><line x1="5" y1="3.3" x2="90" y2="59.2"/><line x1="5" y1="-7.2" x2="90" y2="48.7"/><line x1="5" y1="-17.7" x2="90" y2="38.2"/></g>
<polygon points="83.1,95 92.9,104.1 159.2,63.3 158.9,108.5 83.1,151.9" fill="#b88c5f"/>
<g clip-path="url(#cwr)" stroke="#8f5e3a" stroke-width="5.4"><line x1="80" y1="145.3" x2="165" y2="96.5"/><line x1="80" y1="133.8" x2="165" y2="85"/><line x1="80" y1="122.3" x2="165" y2="73.5"/><line x1="80" y1="110.8" x2="165" y2="62"/><line x1="80" y1="99.3" x2="165" y2="50.5"/><line x1="80" y1="87.8" x2="165" y2="39"/><line x1="80" y1="76.3" x2="165" y2="27.5"/><line x1="80" y1="64.8" x2="165" y2="16"/><line x1="80" y1="53.3" x2="165" y2="4.5"/><line x1="80" y1="41.8" x2="165" y2="-7"/><line x1="80" y1="30.3" x2="165" y2="-18.5"/><line x1="80" y1="18.8" x2="165" y2="-30"/></g>
<polygon points="13.9,59.9 28.8,68.7 28.8,87.9 13.9,78.6" fill="#93d6e0"/>
<polygon points="58.3,88.8 74.6,99.3 74.6,117.4 58.6,107.5" fill="#93d6e0"/>
<polygon points="114.2,93.5 132.8,82.6 132.8,96.1 114.2,107" fill="#93d6e0"/>
<polygon points="34.9,73.6 49.8,82.4 49.8,129.9 34.9,120.3" fill="#f7b96c"/>
<polygon points="0,47.4 75.7,0 115.9,0.9 40.2,48.5" fill="#8f5e3a"/>
<polygon points="40.2,48.5 115.9,0.9 173.5,53.9 92.9,104.1" fill="#b88c5f"/>
<g clip-path="url(#crf)" stroke="#8f5e3a" stroke-width="0.9"><line x1="45" y1="53.6" x2="121.1" y2="5.7"/><line x1="49.8" y1="58.6" x2="126.4" y2="10.5"/><line x1="54.6" y1="63.7" x2="131.6" y2="15.4"/><line x1="59.4" y1="68.7" x2="136.8" y2="20.2"/><line x1="64.2" y1="73.8" x2="142.1" y2="25"/><line x1="68.9" y1="78.8" x2="147.3" y2="29.8"/><line x1="73.7" y1="83.9" x2="152.6" y2="34.6"/><line x1="78.5" y1="88.9" x2="157.8" y2="39.4"/><line x1="83.3" y1="94" x2="163" y2="44.3"/><line x1="88.1" y1="99" x2="168.3" y2="49.1"/></g>
<polyline points="0,47.6 40.2,48.7 92.9,104.3 173.5,54.1" fill="none" stroke="#5a4026" stroke-width="1.6" stroke-linejoin="miter"/></g>
<g transform="translate(1552.2,1522.5) scale(1.02478,0.97169)"><polygon points="12.5,48 40.2,48.5 83.1,95 83.1,151.9 12.8,105.7" fill="#b88c5f"/>
<g clip-path="url(#cwl)" stroke="#8f5e3a" stroke-width="4.6"><line x1="5" y1="97.8" x2="90" y2="153.7"/><line x1="5" y1="87.3" x2="90" y2="143.2"/><line x1="5" y1="76.8" x2="90" y2="132.7"/><line x1="5" y1="66.3" x2="90" y2="122.2"/><line x1="5" y1="55.8" x2="90" y2="111.7"/><line x1="5" y1="45.3" x2="90" y2="101.2"/><line x1="5" y1="34.8" x2="90" y2="90.7"/><line x1="5" y1="24.3" x2="90" y2="80.2"/><line x1="5" y1="13.8" x2="90" y2="69.7"/><line x1="5" y1="3.3" x2="90" y2="59.2"/><line x1="5" y1="-7.2" x2="90" y2="48.7"/><line x1="5" y1="-17.7" x2="90" y2="38.2"/></g>
<polygon points="83.1,95 92.9,104.1 159.2,63.3 158.9,108.5 83.1,151.9" fill="#b88c5f"/>
<g clip-path="url(#cwr)" stroke="#8f5e3a" stroke-width="5.4"><line x1="80" y1="145.3" x2="165" y2="96.5"/><line x1="80" y1="133.8" x2="165" y2="85"/><line x1="80" y1="122.3" x2="165" y2="73.5"/><line x1="80" y1="110.8" x2="165" y2="62"/><line x1="80" y1="99.3" x2="165" y2="50.5"/><line x1="80" y1="87.8" x2="165" y2="39"/><line x1="80" y1="76.3" x2="165" y2="27.5"/><line x1="80" y1="64.8" x2="165" y2="16"/><line x1="80" y1="53.3" x2="165" y2="4.5"/><line x1="80" y1="41.8" x2="165" y2="-7"/><line x1="80" y1="30.3" x2="165" y2="-18.5"/><line x1="80" y1="18.8" x2="165" y2="-30"/></g>
<polygon points="13.9,59.9 28.8,68.7 28.8,87.9 13.9,78.6" fill="#93d6e0"/>
<polygon points="58.3,88.8 74.6,99.3 74.6,117.4 58.6,107.5" fill="#93d6e0"/>
<polygon points="114.2,93.5 132.8,82.6 132.8,96.1 114.2,107" fill="#93d6e0"/>
<polygon points="34.9,73.6 49.8,82.4 49.8,129.9 34.9,120.3" fill="#f7b96c"/>
<polygon points="0,47.4 75.7,0 115.9,0.9 40.2,48.5" fill="#8f5e3a"/>
<polygon points="40.2,48.5 115.9,0.9 173.5,53.9 92.9,104.1" fill="#b88c5f"/>
<g clip-path="url(#crf)" stroke="#8f5e3a" stroke-width="0.9"><line x1="45" y1="53.6" x2="121.1" y2="5.7"/><line x1="49.8" y1="58.6" x2="126.4" y2="10.5"/><line x1="54.6" y1="63.7" x2="131.6" y2="15.4"/><line x1="59.4" y1="68.7" x2="136.8" y2="20.2"/><line x1="64.2" y1="73.8" x2="142.1" y2="25"/><line x1="68.9" y1="78.8" x2="147.3" y2="29.8"/><line x1="73.7" y1="83.9" x2="152.6" y2="34.6"/><line x1="78.5" y1="88.9" x2="157.8" y2="39.4"/><line x1="83.3" y1="94" x2="163" y2="44.3"/><line x1="88.1" y1="99" x2="168.3" y2="49.1"/></g>
<polyline points="0,47.6 40.2,48.7 92.9,104.3 173.5,54.1" fill="none" stroke="#5a4026" stroke-width="1.6" stroke-linejoin="miter"/></g>
<text x="839" y="573" font-size="59" fill="#fff" textLength="474" lengthAdjust="spacing">The James River</text>
<text x="241" y="861" font-size="60" fill="#fff" stroke="#000" stroke-width="5.2" stroke-linejoin="miter" stroke-miterlimit="3" paint-order="stroke" textLength="298" lengthAdjust="spacing">“Y” Bridge</text>
<text x="1259" y="1114" font-size="60" text-anchor="middle" fill="#fff" stroke="#000" stroke-width="5.2" stroke-linejoin="miter" stroke-miterlimit="3" paint-order="stroke">1</text>
<text x="616" y="1274" font-size="62" text-anchor="middle" fill="#fff" stroke="#000" stroke-width="5.2" stroke-linejoin="miter" stroke-miterlimit="3" paint-order="stroke">2</text>
<text x="1403" y="1564" font-size="60" text-anchor="middle" fill="#fff" stroke="#000" stroke-width="5.2" stroke-linejoin="miter" stroke-miterlimit="3" paint-order="stroke">3</text>
<text x="1551" y="1522" font-size="60" text-anchor="middle" fill="#fff" stroke="#000" stroke-width="5.2" stroke-linejoin="miter" stroke-miterlimit="3" paint-order="stroke">4</text>
</svg>
</body></html>
